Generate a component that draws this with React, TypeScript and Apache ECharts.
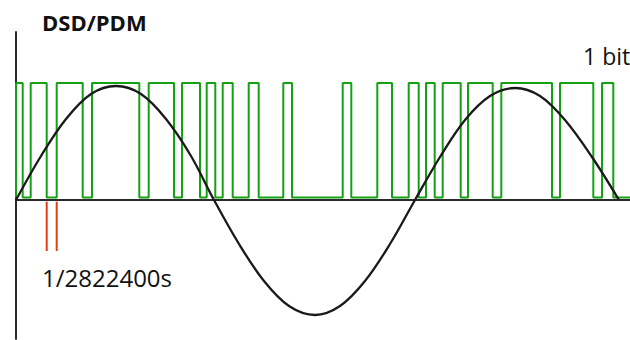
import React, { useEffect, useRef } from "react";
import * as echarts from "echarts";

// PDM bit stream: x positions where the level toggles (starts high at first entry)
const bitEdges = [16, 22.7, 30.7, 46.7, 56.7, 82.7, 92, 139.3, 148.7, 174, 182, 200, 206.7, 215.3, 222.7, 232.7, 248.7, 258.7, 283.3, 292, 342.7, 351.3, 377.3, 392, 408.7, 418.7, 426, 434.7, 442.7, 460.7, 468, 492.7, 501.3, 552, 560, 593.3, 602, 613.3];
const bitHigh = 117;
const bitLow = 2.5;
const bitEnd = 630;

// analog sine wave samples
const sineX = [16, 41, 66, 91, 116, 141, 166, 191, 214, 239, 264, 289, 315, 340, 365, 390, 415, 440, 465, 490, 515, 540, 565, 592, 619];
const sineY = [0, 44, 81, 106, 114, 106, 81, 44, 0, -44, -81, -106, -115, -106, -81, -44, 0, 43, 80, 104, 112, 104, 80, 43, 0];

// sample period markers
const markerX = [46.7, 56.7];
const markerTop = -1.7;
const markerBottom = -51;

export default function App() {
  const ref = useRef<HTMLDivElement>(null);
  useEffect(() => {
    if (!ref.current) return;
    document.body.style.margin = "0";
    const chart = echarts.init(ref.current, null, { renderer: "svg" });

    const bitData: number[][] = [];
    let level = bitHigh;
    bitData.push([bitEdges[0], bitLow]);
    bitData.push([bitEdges[0], bitHigh]);
    for (let i = 1; i < bitEdges.length; i++) {
      bitData.push([bitEdges[i], level]);
      level = level === bitHigh ? bitLow : bitHigh;
      bitData.push([bitEdges[i], level]);
    }
    bitData.push([bitEnd, level]);

    const sineData = sineX.map((x, i) => [x, sineY[i]]);

    const markerSeries = markerX.map((x) => ({
      type: "line",
      data: [[x, markerTop], [x, markerBottom]],
      symbol: "none",
      lineStyle: { color: "#e0400c", width: 2 },
      silent: true,
      z: 1,
    }));

    chart.setOption({
      animation: false,
      grid: { left: 16, right: 0, top: 32, bottom: 1 },
      xAxis: {
        type: "value",
        min: 16,
        max: 630,
        axisLine: { show: true, onZero: true, lineStyle: { color: "#2a2a2a", width: 2 } },
        axisTick: { show: false },
        axisLabel: { show: false },
        splitLine: { show: false },
      },
      yAxis: {
        type: "value",
        min: -139,
        max: 168,
        axisLine: { show: true, onZero: false, lineStyle: { color: "#2a2a2a", width: 2 } },
        axisTick: { show: false },
        axisLabel: { show: false },
        splitLine: { show: false },
      },
      series: [
        {
          type: "line",
          data: bitData,
          symbol: "none",
          lineStyle: { color: "#14a214", width: 2 },
          z: 2,
        },
        {
          type: "line",
          data: sineData,
          symbol: "none",
          smooth: 0.35,
          lineStyle: { color: "#1a1a1a", width: 2.3 },
          z: 3,
        },
        ...markerSeries,
      ],
      graphic: [
        {
          type: "text",
          left: 42,
          top: 11,
          style: { text: "DSD/PDM", fontFamily: "Open Sans", fontWeight: "bold", fontSize: 22, fill: "#111" },
        },
        {
          type: "text",
          left: 583,
          top: 44,
          style: { text: "1 bit", fontFamily: "Open Sans", fontSize: 23, fill: "#111" },
        },
        {
          type: "text",
          left: 42,
          top: 265,
          style: { text: "1/2822400s", fontFamily: "Open Sans", fontSize: 24, fill: "#111" },
        },
      ],
    });
    return () => chart.dispose();
  }, []);
  return <div ref={ref} style={{ width: 630, height: 340 }} />;
}
